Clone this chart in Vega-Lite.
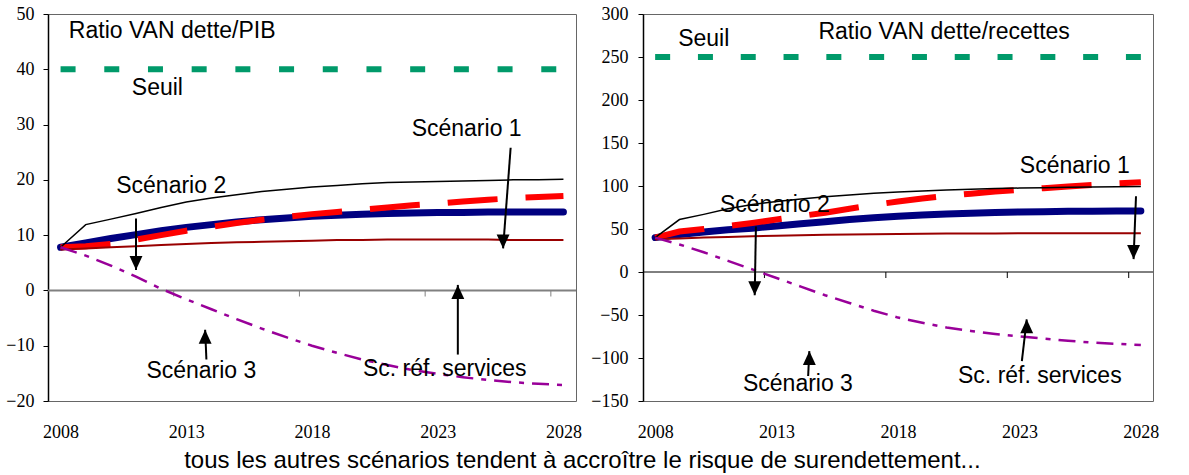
{
  "$schema": "https://vega.github.io/schema/vega-lite/v6.json",
  "background": "white",
  "padding": {"left": 5, "top": 4, "right": 5, "bottom": 2},
  "bounds": "flush",
  "spacing": 67,
  "title": {
    "text": "tous les autres scénarios tendent à accroître le risque de surendettement...",
    "orient": "bottom",
    "anchor": "middle",
    "baseline": "top",
    "offset": 7,
    "font": "Liberation Sans",
    "fontSize": 24,
    "fontWeight": "normal",
    "color": "#000000"
  },
  "config": {
    "view": {"stroke": "#666666", "strokeWidth": 1},
    "axis": {"grid": false, "labelFont": "Liberation Serif", "labelFontSize": 18, "labelColor": "#000000"},
    "axisLeft": {"labelFont": "Liberation Serif", "labelFontSize": 18, "domainColor": "#000000", "domainWidth": 1.5, "tickColor": "#000000", "tickSize": 5, "tickWidth": 1},
    "axisBottom": {"labelFont": "Liberation Serif", "labelFontSize": 18, "domain": false, "ticks": false, "labelPadding": 22, "labelFlush": false, "labelOverlap": false},
    "text": {"font": "Liberation Sans", "fontSize": 23, "color": "#000000"}
  },
  "datasets": {
    "pib": [
      {"s":"noir","x":2008,"y":7.8},{"s":"noir","x":2009,"y":11.9},{"s":"noir","x":2010,"y":12.9},{"s":"noir","x":2011,"y":13.9},{"s":"noir","x":2012,"y":15.0},{"s":"noir","x":2013,"y":16.0},{"s":"noir","x":2014,"y":16.7},{"s":"noir","x":2015,"y":17.3},{"s":"noir","x":2016,"y":17.9},{"s":"noir","x":2017,"y":18.3},{"s":"noir","x":2018,"y":18.7},{"s":"noir","x":2019,"y":19.0},{"s":"noir","x":2020,"y":19.3},{"s":"noir","x":2021,"y":19.5},{"s":"noir","x":2022,"y":19.6},{"s":"noir","x":2023,"y":19.7},{"s":"noir","x":2024,"y":19.8},{"s":"noir","x":2025,"y":19.9},{"s":"noir","x":2026,"y":20.0},{"s":"noir","x":2027,"y":20.0},{"s":"noir","x":2028,"y":20.1},
      {"s":"bleu","x":2008,"y":7.8},{"s":"bleu","x":2009,"y":8.6},{"s":"bleu","x":2010,"y":9.4},{"s":"bleu","x":2011,"y":10.1},{"s":"bleu","x":2012,"y":10.8},{"s":"bleu","x":2013,"y":11.4},{"s":"bleu","x":2014,"y":11.9},{"s":"bleu","x":2015,"y":12.4},{"s":"bleu","x":2016,"y":12.8},{"s":"bleu","x":2017,"y":13.1},{"s":"bleu","x":2018,"y":13.4},{"s":"bleu","x":2019,"y":13.6},{"s":"bleu","x":2020,"y":13.8},{"s":"bleu","x":2021,"y":13.9},{"s":"bleu","x":2022,"y":14.0},{"s":"bleu","x":2023,"y":14.1},{"s":"bleu","x":2024,"y":14.1},{"s":"bleu","x":2025,"y":14.2},{"s":"bleu","x":2026,"y":14.2},{"s":"bleu","x":2027,"y":14.2},{"s":"bleu","x":2028,"y":14.2},
      {"s":"rouge","x":2008,"y":7.8},{"s":"rouge","x":2009,"y":8.0},{"s":"rouge","x":2010,"y":8.4},{"s":"rouge","x":2011,"y":9.2},{"s":"rouge","x":2012,"y":10.0},{"s":"rouge","x":2013,"y":10.8},{"s":"rouge","x":2014,"y":11.5},{"s":"rouge","x":2015,"y":12.2},{"s":"rouge","x":2016,"y":12.8},{"s":"rouge","x":2017,"y":13.3},{"s":"rouge","x":2018,"y":13.8},{"s":"rouge","x":2019,"y":14.2},{"s":"rouge","x":2020,"y":14.6},{"s":"rouge","x":2021,"y":15.0},{"s":"rouge","x":2022,"y":15.4},{"s":"rouge","x":2023,"y":15.7},{"s":"rouge","x":2024,"y":16.1},{"s":"rouge","x":2025,"y":16.4},{"s":"rouge","x":2026,"y":16.7},{"s":"rouge","x":2027,"y":16.9},{"s":"rouge","x":2028,"y":17.1},
      {"s":"bordeaux","x":2008,"y":7.4},{"s":"bordeaux","x":2009,"y":7.6},{"s":"bordeaux","x":2010,"y":7.8},{"s":"bordeaux","x":2011,"y":8.0},{"s":"bordeaux","x":2012,"y":8.2},{"s":"bordeaux","x":2013,"y":8.4},{"s":"bordeaux","x":2014,"y":8.6},{"s":"bordeaux","x":2015,"y":8.7},{"s":"bordeaux","x":2016,"y":8.8},{"s":"bordeaux","x":2017,"y":8.9},{"s":"bordeaux","x":2018,"y":9.0},{"s":"bordeaux","x":2019,"y":9.1},{"s":"bordeaux","x":2020,"y":9.1},{"s":"bordeaux","x":2021,"y":9.2},{"s":"bordeaux","x":2022,"y":9.2},{"s":"bordeaux","x":2023,"y":9.2},{"s":"bordeaux","x":2024,"y":9.2},{"s":"bordeaux","x":2025,"y":9.2},{"s":"bordeaux","x":2026,"y":9.1},{"s":"bordeaux","x":2027,"y":9.1},{"s":"bordeaux","x":2028,"y":9.1},
      {"s":"violet","x":2008,"y":7.8},{"s":"violet","x":2009,"y":6.3},{"s":"violet","x":2010,"y":4.5},{"s":"violet","x":2011,"y":2.5},{"s":"violet","x":2012,"y":0.3},{"s":"violet","x":2013,"y":-1.6},{"s":"violet","x":2014,"y":-3.4},{"s":"violet","x":2015,"y":-5.2},{"s":"violet","x":2016,"y":-6.9},{"s":"violet","x":2017,"y":-8.5},{"s":"violet","x":2018,"y":-10.0},{"s":"violet","x":2019,"y":-11.3},{"s":"violet","x":2020,"y":-12.5},{"s":"violet","x":2021,"y":-13.5},{"s":"violet","x":2022,"y":-14.4},{"s":"violet","x":2023,"y":-15.1},{"s":"violet","x":2024,"y":-15.7},{"s":"violet","x":2025,"y":-16.2},{"s":"violet","x":2026,"y":-16.6},{"s":"violet","x":2027,"y":-16.9},{"s":"violet","x":2028,"y":-17.1}
    ],
    "rec": [
      {"s":"noir","x":2008,"y":40},{"s":"noir","x":2009,"y":61},{"s":"noir","x":2010,"y":67},{"s":"noir","x":2011,"y":73.5},{"s":"noir","x":2012,"y":78.5},{"s":"noir","x":2013,"y":82},{"s":"noir","x":2014,"y":85},{"s":"noir","x":2015,"y":87.5},{"s":"noir","x":2016,"y":89.5},{"s":"noir","x":2017,"y":91.5},{"s":"noir","x":2018,"y":93},{"s":"noir","x":2019,"y":94.3},{"s":"noir","x":2020,"y":95.3},{"s":"noir","x":2021,"y":96.2},{"s":"noir","x":2022,"y":97},{"s":"noir","x":2023,"y":97.6},{"s":"noir","x":2024,"y":98.1},{"s":"noir","x":2025,"y":98.5},{"s":"noir","x":2026,"y":98.9},{"s":"noir","x":2027,"y":99.2},{"s":"noir","x":2028,"y":99.4},
      {"s":"bleu","x":2008,"y":40},{"s":"bleu","x":2009,"y":43.5},{"s":"bleu","x":2010,"y":46.5},{"s":"bleu","x":2011,"y":49},{"s":"bleu","x":2012,"y":51},{"s":"bleu","x":2013,"y":53.5},{"s":"bleu","x":2014,"y":56},{"s":"bleu","x":2015,"y":58.5},{"s":"bleu","x":2016,"y":61},{"s":"bleu","x":2017,"y":63},{"s":"bleu","x":2018,"y":64.8},{"s":"bleu","x":2019,"y":66.2},{"s":"bleu","x":2020,"y":67.4},{"s":"bleu","x":2021,"y":68.4},{"s":"bleu","x":2022,"y":69.2},{"s":"bleu","x":2023,"y":69.8},{"s":"bleu","x":2024,"y":70.2},{"s":"bleu","x":2025,"y":70.5},{"s":"bleu","x":2026,"y":70.7},{"s":"bleu","x":2027,"y":70.9},{"s":"bleu","x":2028,"y":71},
      {"s":"rouge","x":2008,"y":40},{"s":"rouge","x":2009,"y":47},{"s":"rouge","x":2010,"y":50},{"s":"rouge","x":2011,"y":53.5},{"s":"rouge","x":2012,"y":57},{"s":"rouge","x":2013,"y":61},{"s":"rouge","x":2014,"y":65},{"s":"rouge","x":2015,"y":69},{"s":"rouge","x":2016,"y":73.5},{"s":"rouge","x":2017,"y":78},{"s":"rouge","x":2018,"y":82},{"s":"rouge","x":2019,"y":85.5},{"s":"rouge","x":2020,"y":88.5},{"s":"rouge","x":2021,"y":91},{"s":"rouge","x":2022,"y":93.5},{"s":"rouge","x":2023,"y":95.5},{"s":"rouge","x":2024,"y":97.5},{"s":"rouge","x":2025,"y":99.5},{"s":"rouge","x":2026,"y":101.3},{"s":"rouge","x":2027,"y":103},{"s":"rouge","x":2028,"y":104.5},
      {"s":"bordeaux","x":2008,"y":38},{"s":"bordeaux","x":2009,"y":39},{"s":"bordeaux","x":2010,"y":40},{"s":"bordeaux","x":2011,"y":40.8},{"s":"bordeaux","x":2012,"y":41.5},{"s":"bordeaux","x":2013,"y":42.2},{"s":"bordeaux","x":2014,"y":42.8},{"s":"bordeaux","x":2015,"y":43.3},{"s":"bordeaux","x":2016,"y":43.7},{"s":"bordeaux","x":2017,"y":44},{"s":"bordeaux","x":2018,"y":44.3},{"s":"bordeaux","x":2019,"y":44.5},{"s":"bordeaux","x":2020,"y":44.7},{"s":"bordeaux","x":2021,"y":44.8},{"s":"bordeaux","x":2022,"y":44.9},{"s":"bordeaux","x":2023,"y":45},{"s":"bordeaux","x":2024,"y":45},{"s":"bordeaux","x":2025,"y":45},{"s":"bordeaux","x":2026,"y":45},{"s":"bordeaux","x":2027,"y":45},{"s":"bordeaux","x":2028,"y":45},
      {"s":"violet","x":2008,"y":40},{"s":"violet","x":2009,"y":32},{"s":"violet","x":2010,"y":23},{"s":"violet","x":2011,"y":13},{"s":"violet","x":2012,"y":3},{"s":"violet","x":2013,"y":-7},{"s":"violet","x":2014,"y":-17},{"s":"violet","x":2015,"y":-27},{"s":"violet","x":2016,"y":-36},{"s":"violet","x":2017,"y":-45},{"s":"violet","x":2018,"y":-53},{"s":"violet","x":2019,"y":-59},{"s":"violet","x":2020,"y":-64.5},{"s":"violet","x":2021,"y":-68.5},{"s":"violet","x":2022,"y":-72},{"s":"violet","x":2023,"y":-75},{"s":"violet","x":2024,"y":-77.5},{"s":"violet","x":2025,"y":-80},{"s":"violet","x":2026,"y":-82},{"s":"violet","x":2027,"y":-83.5},{"s":"violet","x":2028,"y":-85}
    ],
    "seuils": [
      {"p":"pib","x":2008,"x2":2028,"y":40},
      {"p":"rec","x":2008,"x2":2028,"y":250}
    ],
    "zeros": [
      {"p":"pib","x":2007.5,"x2":2028.5,"y":0},
      {"p":"rec","x":2007.5,"x2":2028.5,"y":0}
    ],
    "ticks": [
      {"p":"pib","x":2012.5,"y":0,"y2":-1.1},{"p":"pib","x":2017.5,"y":0,"y2":-1.1},{"p":"pib","x":2022.5,"y":0,"y2":-1.1},{"p":"pib","x":2027.5,"y":0,"y2":-1.1},
      {"p":"rec","x":2012.5,"y":0,"y2":-7},{"p":"rec","x":2017.5,"y":0,"y2":-7},{"p":"rec","x":2022.5,"y":0,"y2":-7},{"p":"rec","x":2027.5,"y":0,"y2":-7}
    ],
    "fleches": [
      {"p":"pib","x":2011.0,"y":13.0,"x2":2011.0,"y2":3.7},
      {"p":"pib","x":2025.9,"y":25.8,"x2":2025.6,"y2":7.6},
      {"p":"pib","x":2013.8,"y":-12.5,"x2":2013.75,"y2":-7.1},
      {"p":"pib","x":2023.8,"y":-11.6,"x2":2023.8,"y2":1.0},
      {"p":"rec","x":2012.15,"y":53,"x2":2012.1,"y2":-27},
      {"p":"rec","x":2027.8,"y":88,"x2":2027.7,"y2":15},
      {"p":"rec","x":2014.3,"y":-121,"x2":2014.35,"y2":-92},
      {"p":"rec","x":2023.1,"y":-103.5,"x2":2023.3,"y2":-55}
    ],
    "pointes": [
      {"p":"pib","x":2011.0,"y":3.7,"dir":"down"},
      {"p":"pib","x":2025.6,"y":7.6,"dir":"down"},
      {"p":"pib","x":2013.75,"y":-7.1,"dir":"up"},
      {"p":"pib","x":2023.8,"y":1.0,"dir":"up"},
      {"p":"rec","x":2012.1,"y":-27,"dir":"down"},
      {"p":"rec","x":2027.7,"y":15,"dir":"down"},
      {"p":"rec","x":2014.35,"y":-92,"dir":"up"},
      {"p":"rec","x":2023.3,"y":-55,"dir":"up"}
    ],
    "textes": [
      {"p":"pib","x":2012.44,"y":46.9,"text":"Ratio VAN dette/PIB"},
      {"p":"pib","x":2011.85,"y":36.7,"text":"Seuil"},
      {"p":"pib","x":2012.4,"y":18.8,"text":"Scénario 2"},
      {"p":"pib","x":2024.15,"y":29.2,"text":"Scénario 1"},
      {"p":"pib","x":2013.6,"y":-14.6,"text":"Scénario 3"},
      {"p":"pib","x":2023.28,"y":-14.3,"text":"Sc. réf. services"},
      {"p":"rec","x":2010.0,"y":271,"text":"Seuil"},
      {"p":"rec","x":2019.9,"y":279,"text":"Ratio VAN dette/recettes"},
      {"p":"rec","x":2025.28,"y":123.6,"text":"Scénario 1"},
      {"p":"rec","x":2012.93,"y":78,"text":"Scénario 2"},
      {"p":"rec","x":2013.88,"y":-129.9,"text":"Scénario 3"},
      {"p":"rec","x":2023.84,"y":-120.6,"text":"Sc. réf. services"}
    ]
  },
  "hconcat": [
    {
      "width": 528,
      "height": 387,
      "encoding": {
        "x": {"field": "x", "type": "quantitative", "scale": {"domain": [2007.5, 2028.5], "nice": false, "zero": false}, "axis": {"values": [2008, 2013, 2018, 2023, 2028], "format": "d", "title": null, "labelFont": "Liberation Serif"}},
        "y": {"field": "y", "type": "quantitative", "scale": {"domain": [-20, 50], "nice": false, "zero": false}, "axis": {"values": [-20, -10, 0, 10, 20, 30, 40, 50], "format": "d", "title": null, "labelPadding": 9, "labelFont": "Liberation Serif", "labelFontSize": 18}}
      },
      "layer": [
        {"data": {"name": "zeros"}, "transform": [{"filter": "datum.p === 'pib'"}], "mark": {"type": "rule", "color": "#808080", "strokeWidth": 2}, "encoding": {"x2": {"field": "x2"}}},
        {"data": {"name": "ticks"}, "transform": [{"filter": "datum.p === 'pib'"}], "mark": {"type": "rule", "color": "#808080", "strokeWidth": 1}, "encoding": {"y2": {"field": "y2"}}},
        {"data": {"name": "seuils"}, "transform": [{"filter": "datum.p === 'pib'"}], "mark": {"type": "rule", "color": "#009A6A", "strokeWidth": 6, "strokeDash": [15, 28.7], "strokeCap": "butt"}, "encoding": {"x2": {"field": "x2"}}},
        {"data": {"name": "pib"}, "transform": [{"filter": "datum.s === 'bleu'"}], "mark": {"type": "line", "color": "#000080", "strokeWidth": 7, "strokeCap": "round", "strokeJoin": "round"}},
        {"data": {"name": "pib"}, "transform": [{"filter": "datum.s === 'rouge'"}], "mark": {"type": "line", "color": "#FF0000", "strokeWidth": 6, "strokeDash": [50, 28], "strokeCap": "butt"}},
        {"data": {"name": "pib"}, "transform": [{"filter": "datum.s === 'noir'"}], "mark": {"type": "line", "color": "#000000", "strokeWidth": 1.5}},
        {"data": {"name": "pib"}, "transform": [{"filter": "datum.s === 'bordeaux'"}], "mark": {"type": "line", "color": "#990000", "strokeWidth": 2}},
        {"data": {"name": "pib"}, "transform": [{"filter": "datum.s === 'violet'"}], "mark": {"type": "line", "color": "#990099", "strokeWidth": 2.5, "strokeDash": [17, 8, 5, 8]}},
        {"data": {"name": "fleches"}, "transform": [{"filter": "datum.p === 'pib'"}], "mark": {"type": "rule", "color": "#000000", "strokeWidth": 2}, "encoding": {"x2": {"field": "x2"}, "y2": {"field": "y2"}}},
        {"data": {"name": "pointes"}, "transform": [{"filter": "datum.p === 'pib'"}], "mark": {"type": "point", "filled": true, "color": "#000000", "opacity": 1, "size": 784, "strokeWidth": 0},
          "encoding": {
            "shape": {"field": "dir", "type": "nominal", "scale": {"domain": ["down", "up"], "range": ["M-0.46,-1L0.46,-1L0,0Z", "M-0.46,1L0.46,1L0,0Z"]}, "legend": null}
          }},
        {"data": {"name": "textes"}, "transform": [{"filter": "datum.p === 'pib'"}], "mark": {"type": "text", "align": "center", "baseline": "middle"}, "encoding": {"text": {"field": "text"}}}
      ]
    },
    {
      "width": 510,
      "height": 387,
      "encoding": {
        "x": {"field": "x", "type": "quantitative", "scale": {"domain": [2007.5, 2028.5], "nice": false, "zero": false}, "axis": {"values": [2008, 2013, 2018, 2023, 2028], "format": "d", "title": null, "labelFont": "Liberation Serif"}},
        "y": {"field": "y", "type": "quantitative", "scale": {"domain": [-150, 300], "nice": false, "zero": false}, "axis": {"values": [-150, -100, -50, 0, 50, 100, 150, 200, 250, 300], "format": "d", "title": null, "labelPadding": 10, "labelFont": "Liberation Serif", "labelFontSize": 18}}
      },
      "layer": [
        {"data": {"name": "zeros"}, "transform": [{"filter": "datum.p === 'rec'"}], "mark": {"type": "rule", "color": "#000000", "strokeWidth": 1}, "encoding": {"x2": {"field": "x2"}}},
        {"data": {"name": "ticks"}, "transform": [{"filter": "datum.p === 'rec'"}], "mark": {"type": "rule", "color": "#000000", "strokeWidth": 1}, "encoding": {"y2": {"field": "y2"}}},
        {"data": {"name": "seuils"}, "transform": [{"filter": "datum.p === 'rec'"}], "mark": {"type": "rule", "color": "#009A6A", "strokeWidth": 6, "strokeDash": [15, 27.8], "strokeCap": "butt"}, "encoding": {"x2": {"field": "x2"}}},
        {"data": {"name": "rec"}, "transform": [{"filter": "datum.s === 'bleu'"}], "mark": {"type": "line", "color": "#000080", "strokeWidth": 7, "strokeCap": "round", "strokeJoin": "round"}},
        {"data": {"name": "rec"}, "transform": [{"filter": "datum.s === 'rouge'"}], "mark": {"type": "line", "color": "#FF0000", "strokeWidth": 6, "strokeDash": [50, 28], "strokeCap": "butt"}},
        {"data": {"name": "rec"}, "transform": [{"filter": "datum.s === 'noir'"}], "mark": {"type": "line", "color": "#000000", "strokeWidth": 1.5}},
        {"data": {"name": "rec"}, "transform": [{"filter": "datum.s === 'bordeaux'"}], "mark": {"type": "line", "color": "#990000", "strokeWidth": 2}},
        {"data": {"name": "rec"}, "transform": [{"filter": "datum.s === 'violet'"}], "mark": {"type": "line", "color": "#990099", "strokeWidth": 2.5, "strokeDash": [17, 8, 5, 8]}},
        {"data": {"name": "fleches"}, "transform": [{"filter": "datum.p === 'rec'"}], "mark": {"type": "rule", "color": "#000000", "strokeWidth": 2}, "encoding": {"x2": {"field": "x2"}, "y2": {"field": "y2"}}},
        {"data": {"name": "pointes"}, "transform": [{"filter": "datum.p === 'rec'"}], "mark": {"type": "point", "filled": true, "color": "#000000", "opacity": 1, "size": 784, "strokeWidth": 0},
          "encoding": {
            "shape": {"field": "dir", "type": "nominal", "scale": {"domain": ["down", "up"], "range": ["M-0.46,-1L0.46,-1L0,0Z", "M-0.46,1L0.46,1L0,0Z"]}, "legend": null}
          }},
        {"data": {"name": "textes"}, "transform": [{"filter": "datum.p === 'rec'"}], "mark": {"type": "text", "align": "center", "baseline": "middle"}, "encoding": {"text": {"field": "text"}}}
      ]
    }
  ]
}
